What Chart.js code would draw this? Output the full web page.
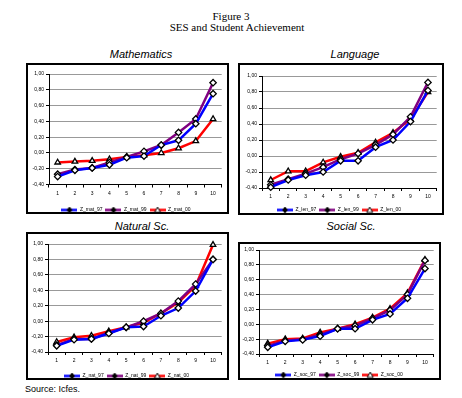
<!DOCTYPE html>
<html>
<head>
<meta charset="utf-8">
<script src="https://cdn.jsdelivr.net/npm/chart.js@4/dist/chart.umd.min.js"></script>
<style>
  body { margin: 0; background: #fff; width: 462px; height: 398px; position: relative; overflow: hidden; font-family: "Liberation Sans", Arial, sans-serif; }
  .fig { position: absolute; left: 0; width: 462px; text-align: center; font-family: "Liberation Serif", "Times New Roman", serif; font-size: 11px; color: #000; }
  .ptitle { position: absolute; width: 160px; text-align: center; font-style: italic; font-size: 11px; color: #000; }
  .box { position: absolute; border: 2px solid #000; background: #fff; }
  .box canvas { display: block; }
  .src { position: absolute; left: 25px; top: 384px; font-size: 9px; }
</style>
</head>
<body>
<div class="fig" style="top:10px">Figure 3</div>
<div class="fig" style="top:21px;left:6px">SES and Student Achievement</div>

<div class="ptitle" style="left:61px;top:48px">Mathematics</div>
<div class="ptitle" style="left:275px;top:48px">Language</div>
<div class="ptitle" style="left:62px;top:220px">Natural Sc.</div>
<div class="ptitle" style="left:271px;top:220px">Social Sc.</div>

<div class="box" style="left:26px;top:63px"><canvas id="matChart" width="199" height="147"></canvas></div>
<div class="box" style="left:238px;top:63px"><canvas id="lenChart" width="202" height="148"></canvas></div>
<div class="box" style="left:26px;top:232px"><canvas id="natChart" width="199" height="144"></canvas></div>
<div class="box" style="left:238px;top:242px"><canvas id="socChart" width="199" height="134"></canvas></div>

<div class="src">Source: Icfes.</div>

<script>
// deciles of SES
const deciles = ['1', '2', '3', '4', '5', '6', '7', '8', '9', '10'];

const mat97 = [-0.30, -0.22, -0.19, -0.15, -0.06, -0.04, 0.10, 0.16, 0.37, 0.75];
const mat99 = [-0.27, -0.21, -0.19, -0.12, -0.05, 0.02, 0.10, 0.26, 0.43, 0.89];
const mat00 = [-0.12, -0.11, -0.10, -0.08, -0.05, -0.03, 0.00, 0.06, 0.15, 0.43];

const len97 = [-0.39, -0.30, -0.24, -0.20, -0.06, -0.06, 0.11, 0.20, 0.43, 0.82];
const len99 = [-0.36, -0.29, -0.22, -0.14, -0.04, 0.03, 0.14, 0.27, 0.49, 0.92];
const len00 = [-0.30, -0.19, -0.19, -0.08, -0.01, 0.04, 0.17, 0.29, 0.46, 0.80];

const nat97 = [-0.32, -0.24, -0.23, -0.16, -0.08, -0.07, 0.07, 0.17, 0.39, 0.80];
const nat99 = [-0.31, -0.23, -0.23, -0.15, -0.08, 0.00, 0.10, 0.26, 0.48, 0.80];
const nat00 = [-0.27, -0.21, -0.19, -0.13, -0.08, -0.02, 0.10, 0.24, 0.46, 0.99];

const soc97 = [-0.31, -0.23, -0.21, -0.16, -0.06, -0.06, 0.06, 0.14, 0.35, 0.75];
const soc99 = [-0.29, -0.22, -0.20, -0.14, -0.06, -0.02, 0.08, 0.19, 0.40, 0.86];
const soc00 = [-0.26, -0.20, -0.19, -0.11, -0.06, 0.00, 0.09, 0.21, 0.42, 0.87];

const yMin = -0.4, yMax = 1.0, yStep = 0.2;

const colors = ['#0000ff', '#800080', '#ff0000'];
const markers = ['rectRot', 'rectRot', 'triangle'];

// small picture of line + marker for the legend
function legendIcon(color, marker) {
  const c = document.createElement('canvas');
  c.width = 16; c.height = 7;
  const ctx = c.getContext('2d');
  ctx.strokeStyle = color; ctx.lineWidth = 2.5;
  ctx.beginPath(); ctx.moveTo(0, 3.5); ctx.lineTo(16, 3.5); ctx.stroke();
  ctx.lineWidth = 1;
  ctx.strokeStyle = '#000';
  ctx.beginPath();
  if (marker === 'triangle') {
    ctx.moveTo(8, 0.5); ctx.lineTo(11, 6); ctx.lineTo(5, 6); ctx.closePath();
    ctx.fillStyle = '#fff'; ctx.fill(); ctx.stroke();
  } else {
    ctx.moveTo(8, 0); ctx.lineTo(11, 3.5); ctx.lineTo(8, 7); ctx.lineTo(5, 3.5); ctx.closePath();
    ctx.fillStyle = '#000'; ctx.fill();
  }
  return c;
}

function fmt(v) {
  if (Math.abs(v) < 1e-9) v = 0;
  return v.toFixed(2).replace('.', ',');
}

function makeChart(id, names, series, g) {
  const canvas = document.getElementById(id);
  const W = canvas.width, H = canvas.height;
  const legendPad = 3;
  // chart.js legend box = 2*padding + fontSize + 10, label centred padding + fontSize/2 below its top
  const padBottom = g.legend - (legendPad + 12.5);
  const xHeight = H - g.b - g.legend - legendPad - 2.5;
  const icons = colors.map((c, i) => legendIcon(c, markers[i]));
  return new Chart(canvas.getContext('2d'), {
    type: 'line',
    data: {
      labels: deciles,
      datasets: series.map((d, i) => ({
        label: names[i],
        data: d,
        borderColor: colors[i],
        backgroundColor: colors[i],
        borderWidth: 2.5,
        tension: 0,
        clip: false,
        pointStyle: markers[i],
        pointRadius: 3.2,
        pointBorderWidth: 1.3,
        pointBorderColor: '#000',
        pointBackgroundColor: '#fff'
      }))
    },
    options: {
      responsive: false,
      animation: false,
      devicePixelRatio: 1,
      layout: { padding: { top: g.t, right: W - g.r, left: 0, bottom: padBottom } },
      plugins: {
        tooltip: { enabled: false },
        legend: {
          position: 'bottom',
          labels: {
            usePointStyle: true,
            pointStyleWidth: 16,
            padding: legendPad,
            color: '#000',
            font: { family: 'Liberation Sans, Arial', size: 5 },
            generateLabels: chart => chart.data.datasets.map((ds, i) => ({
              text: ds.label,
              pointStyle: icons[i],
              fillStyle: colors[i],
              strokeStyle: colors[i],
              lineWidth: 0,
              datasetIndex: i
            }))
          }
        }
      },
      scales: {
        x: {
          offset: true,
          afterFit: s => { s.height = xHeight; },
          grid: { display: true, drawOnChartArea: false, offset: true, tickLength: 3, color: '#000' },
          border: { color: '#000', width: 1 },
          ticks: { color: '#000', padding: 3, maxRotation: 0, font: { family: 'Liberation Sans, Arial', size: 5 } }
        },
        y: {
          min: yMin, max: yMax,
          afterFit: s => { s.width = g.l; },
          grid: { color: '#999', lineWidth: 1, tickLength: 3, tickColor: '#000' },
          border: { color: '#000', width: 1 },
          ticks: {
            stepSize: yStep, color: '#000', padding: 2,
            font: { family: 'Liberation Sans, Arial', size: 5 },
            callback: v => fmt(v)
          }
        }
      }
    }
  });
}

makeChart('matChart', ['Z_mat_97', 'Z_mat_99', 'Z_mat_00'], [mat97, mat99, mat00], { l: 21, t: 9, r: 196, b: 116.5, legend: 5 });
makeChart('lenChart', ['Z_len_97', 'Z_len_99', 'Z_len_00'], [len97, len99, len00], { l: 22, t: 11, r: 198, b: 120, legend: 6 });
makeChart('natChart', ['Z_nat_97', 'Z_nat_99', 'Z_nat_00'], [nat97, nat99, nat00], { l: 20, t: 10, r: 197, b: 115, legend: 5 });
makeChart('socChart', ['Z_soc_97', 'Z_soc_99', 'Z_soc_00'], [soc97, soc99, soc00], { l: 19, t: 6, r: 198, b: 107, legend: 6 });
</script>
</body>
</html>
